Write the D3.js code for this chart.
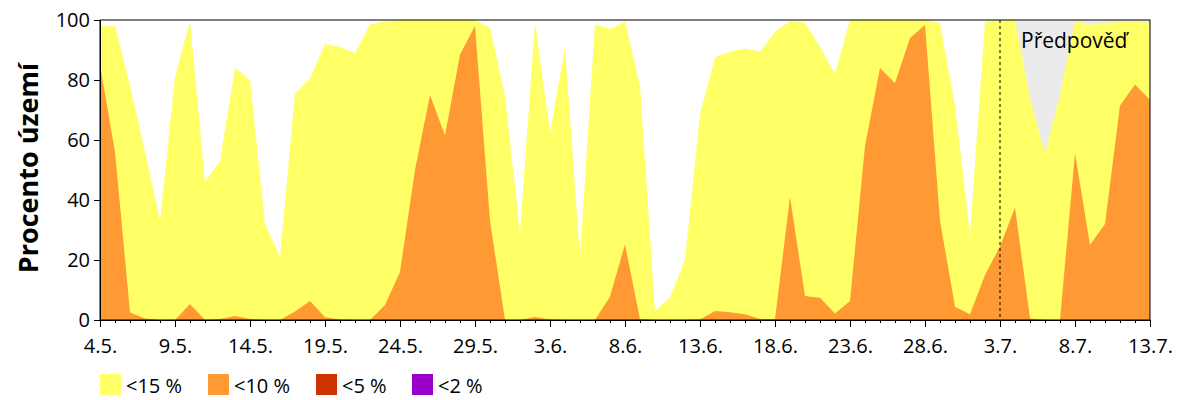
<html>
<meta charset="utf-8" />
<head>
<title>Procento území</title>
<script src="https://cdn.jsdelivr.net/npm/d3@7/dist/d3.min.js"></script>
<style>
	body { margin: 0; background: #fff; }
	text { font-family: "Open Sans", sans-serif; fill: #000; }
</style>
<script>
// denni hodnoty 4.5. - 13.7. (procento uzemi)
let below15 = [98, 98, 78, 56, 33, 81, 99.5, 46, 53, 84, 80, 32, 21, 75.5, 80.5, 92, 91, 89, 98.5, 99.7,
	100, 100, 100, 100, 100, 100, 97.5, 74.5, 29, 99, 62.5, 91, 21, 98.5, 97, 99.5, 78, 3, 7.5, 20,
	68.5, 87.5, 89.5, 90.5, 89.5, 96, 99.7, 99.2, 91, 82, 100, 100, 100, 100, 100, 100, 99, 71.5, 28.5, 99.4,
	100, 100, 74, 55.5, 75, 99.7, 98.3, 99, 99.4, 99.7, 99];
let below10 = [85, 56, 2.5, 0.5, 0, 0, 5.3, 0, 0.3, 1.3, 0.3, 0, 0, 2.8, 6.3, 0.9, 0.2, 0, 0, 5,
	16, 50, 75, 61.5, 88.5, 98, 33, 0, 0, 1, 0.2, 0, 0, 0, 7.8, 25.2, 0.3, 0, 0, 0,
	0.2, 3, 2.6, 1.9, 0.3, 0.3, 41, 8, 7.4, 2.2, 6.3, 58, 84, 79, 94, 98.3, 33, 4.4, 1.9, 15,
	24.5, 37.5, 0.5, 0, 0, 55.5, 25, 32, 71.5, 78.5, 73.3];
let xLabels = ['4.5.', '9.5.', '14.5.', '19.5.', '24.5.', '29.5.', '3.6.', '8.6.', '13.6.', '18.6.', '23.6.', '28.6.', '3.7.', '8.7.', '13.7.'];
let forecastStart = 60;	// 3.7.
let legendNames = ['<15 %', '<10 %', '<5 %', '<2 %'];
let legendColors = ['#ffff66', '#ff9933', '#cc3300', '#9900cc'];

window.onload = function() {
	let svg = d3.select('svg');
	let days = d3.range(below15.length);

	let xScale = d3.scaleLinear().domain([0, days.length - 1]).range([100, 1150]);
	let yScale = d3.scaleLinear().domain([0, 100]).range([320, 20]);

	// predpoved - sede pozadi
	svg.append('rect')
		.attr('x', xScale(forecastStart))
		.attr('y', yScale(100))
		.attr('width', xScale(days.length - 1) - xScale(forecastStart))
		.attr('height', yScale(0) - yScale(100))
		.attr('fill', '#ebebeb');

	let series = [below15, below10];
	series.forEach((s, i) => {
		let area = d3.area()
			.x((d) => xScale(d))
			.y0(yScale(0))
			.y1((d) => yScale(s[d]));
		svg.append('path')
			.attr('d', area(days))
			.attr('fill', legendColors[i]);
	});

	svg.append('line')
		.attr('x1', xScale(forecastStart)).attr('x2', xScale(forecastStart))
		.attr('y1', yScale(100)).attr('y2', yScale(0))
		.attr('stroke', '#000').attr('stroke-dasharray', '3,3');

	svg.append('text')
		.attr('x', xScale(forecastStart) + 21)
		.attr('y', 48)
		.style('font-size', '21px')
		.text('Předpověď');

	// ramecek
	svg.append('rect')
		.attr('x', 100).attr('y', 20)
		.attr('width', 1050).attr('height', 300)
		.attr('fill', 'none').attr('stroke', '#000');

	// osa x - male ticky po dnech
	let xMinor = d3.axisBottom(xScale).tickValues(days).tickSize(3).tickFormat('');
	svg.append('g').attr('transform', 'translate(0,320)').call(xMinor);

	let xAxis = d3.axisBottom(xScale)
		.tickValues(d3.range(0, days.length, 5))
		.tickSize(7)
		.tickPadding(12)
		.tickFormat((d, i) => xLabels[i]);
	svg.append('g').attr('id', 'xAxisG').attr('transform', 'translate(0,320)').call(xAxis);

	let yAxis = d3.axisLeft(yScale).tickValues([0, 20, 40, 60, 80, 100]).tickSize(6).tickPadding(4);
	svg.append('g').attr('id', 'yAxisG').attr('transform', 'translate(100,0)').call(yAxis);

	svg.selectAll('.domain').attr('stroke', '#000');
	svg.selectAll('.tick line').attr('stroke', '#000');
	svg.selectAll('.tick text').style('font-size', '20px').style('font-family', '"Open Sans", sans-serif');

	svg.append('text')
		.attr('transform', 'translate(38,168) rotate(-90)')
		.attr('text-anchor', 'middle')
		.style('font-size', '27px')
		.style('font-weight', 'bold')
		.text('Procento území');

	// legenda
	let legend = svg.selectAll('g.legend').data(legendNames).enter()
		.append('g').attr('class', 'legend')
		.attr('transform', (d, i) => 'translate(' + [100, 208, 316, 412][i] + ',374)');
	legend.append('rect')
		.attr('width', 21).attr('height', 21)
		.attr('fill', (d, i) => legendColors[i]);
	legend.append('text')
		.attr('x', 26).attr('y', 19)
		.style('font-size', '20px')
		.text((d) => d);
}
</script>
</head>
<body>
<svg width="1200" height="400"></svg>
</body>
</html>
